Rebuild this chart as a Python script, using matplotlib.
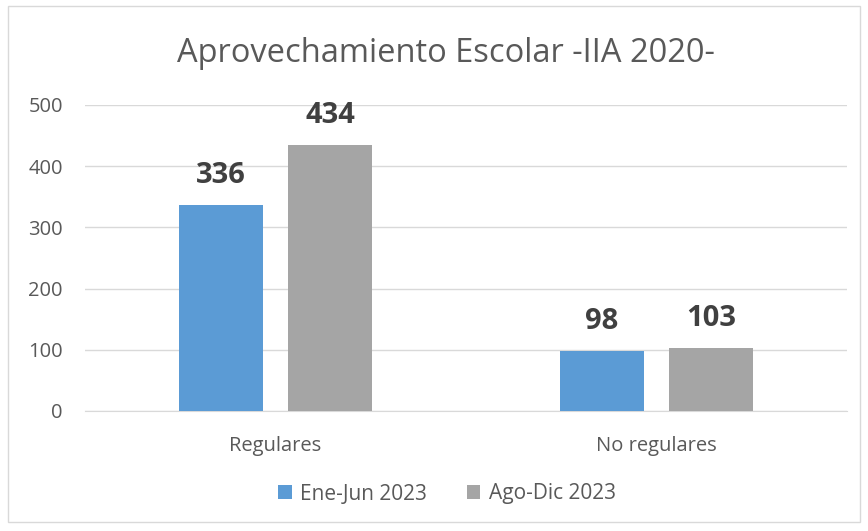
import matplotlib.pyplot as plt
from matplotlib.patches import Rectangle

# datos
categorias = ["Regulares", "No regulares"]
ene_jun = [336, 98]
ago_dic = [434, 103]
series = ["Ene-Jun 2023", "Ago-Dic 2023"]

plt.rcParams['font.family'] = ['Open Sans', 'DejaVu Sans']

fig = plt.figure(figsize=(8.68, 5.31), dpi=100)
ax = fig.add_axes([85/868, 1 - 411/531, 762/868, 306/531])

# marco del grafico
fig.patches.append(Rectangle((8/868, 1 - 522/531), 852/868, 516/531,
                             transform=fig.transFigure, fill=False,
                             edgecolor="#D9D9D9", linewidth=1))

x = range(len(categorias))
ancho = 0.223
off = 0.143
b1 = ax.bar([i - off for i in x], ene_jun, ancho, color="#5B9BD5", label=series[0], zorder=3)
b2 = ax.bar([i + off for i in x], ago_dic, ancho, color="#A5A5A5", label=series[1], zorder=3)

for barras in (b1, b2):
    ax.bar_label(barras, padding=11, fontsize=21, fontweight="bold", color="#404040")

ax.set_xlim(-0.5, 1.5)
ax.set_ylim(0, 500)
ax.set_yticks(range(0, 501, 100))
ax.yaxis.grid(True, color="#D9D9D9", linewidth=1, zorder=0)
ax.set_xticks(list(x))
ax.set_xticklabels(categorias)
ax.tick_params(axis="both", length=0, labelsize=14.5, colors="#595959")
ax.tick_params(axis="x", pad=18)
ax.tick_params(axis="y", pad=16)
for s in ["top", "right", "left"]:
    ax.spines[s].set_visible(False)
ax.spines["bottom"].set_color("#D9D9D9")

fig.text(446/868, 1 - 53/531, "Aprovechamiento Escolar -IIA 2020-",
         ha="center", va="center", fontsize=23.5, color="#595959")

fig.legend(loc="center", bbox_to_anchor=(447/868, 1 - 494/531), ncol=2,
           frameon=False, fontsize=15, labelcolor="#595959",
           handlelength=0.65, handleheight=0.65, handletextpad=0.4, columnspacing=1.9)

plt.savefig("out.png")
